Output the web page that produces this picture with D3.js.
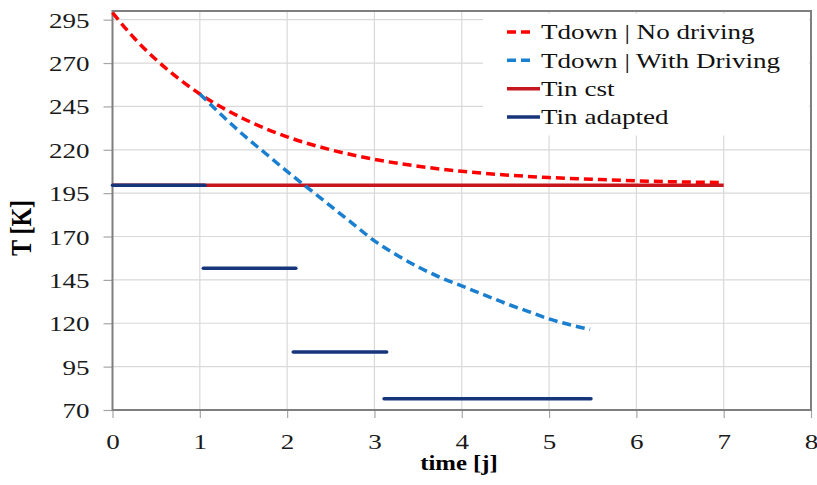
<!DOCTYPE html>
<html>
<head>
<meta charset="utf-8">
<script src="https://cdn.jsdelivr.net/npm/d3@7"></script>
<style>
  html, body { margin: 0; padding: 0; background: #fff; }
  svg { display: block; }
</style>
</head>
<body>
<svg id="chart" width="817" height="485"></svg>
<script>
// ---- data ----
const xTicks = [0, 1, 2, 3, 4, 5, 6, 7, 8];
const yTicks = [70, 95, 120, 145, 170, 195, 220, 245, 270, 295];

const noDrivingTime = [0, 0.25, 0.5, 0.75, 1, 1.25, 1.5, 1.75, 2, 2.5, 3, 3.5, 4, 4.5, 5, 5.5, 6, 6.5, 7];
const noDrivingT    = [299, 284.3, 271.9, 261.3, 252.2, 244.5, 237.9, 232.3, 227.5, 220, 214.5, 210.5, 207.6, 205.5, 204.0, 203.0, 202.1, 201.5, 201.1];

const drivingTime = [1, 1.25, 1.5, 1.75, 2, 2.25, 2.5, 2.75, 3, 3.25, 3.5, 3.75, 4, 4.25, 4.5, 4.75, 5, 5.25, 5.47];
const drivingT    = [252.2, 240, 228.5, 218, 207.5, 197.5, 187.5, 177.5, 167.5, 159.5, 152.5, 146.5, 141.5, 136.5, 131.5, 127, 122.5, 119, 116.5];

const tinCstTime = [0, 7];
const tinCstT    = [199.5, 199.5];

const tinAdaptedStart = [0, 1.04, 2.07, 3.11];
const tinAdaptedEnd   = [1.06, 2.1, 3.14, 5.48];
const tinAdaptedT     = [199.5, 151.7, 103.5, 76.5];

const seriesNames = ["Tdown | No driving", "Tdown | With Driving", "Tin cst", "Tin adapted"];
const xLabel = "time [j]";
const yLabel = "T [K]";

// ---- layout ----
const FONT = "'Liberation Serif', 'Times New Roman', serif";
const svg = d3.select("#chart");
const M = { left: 112.5, right: 811, top: 11, bottom: 410 };
const SX = 1.23; // horizontal text stretch seen in the reference
const colors = { noDriving: "#FF0000", driving: "#1B7FD0", cst: "#C8161E", adapted: "#17357A" };

const x = d3.scaleLinear().domain([0, 8]).range([M.left, M.right]);
const y = d3.scaleLinear().domain([70, 300]).range([M.bottom, M.top]);

// gridlines
const grid = svg.append("g").attr("stroke", "#d9d9d9").attr("stroke-width", 1.2);
grid.selectAll("line.h").data(yTicks).join("line")
  .attr("x1", M.left).attr("x2", M.right)
  .attr("y1", d => y(d)).attr("y2", d => y(d));
grid.selectAll("line.v").data(xTicks.slice(1, -1)).join("line")
  .attr("y1", M.top).attr("y2", M.bottom)
  .attr("x1", d => x(d)).attr("x2", d => x(d));

// axes
const yAxis = svg.append("g").attr("transform", `translate(${M.left},0)`)
  .call(d3.axisLeft(y).tickValues(yTicks).tickSize(9).tickSizeOuter(0).tickPadding(0));
const xAxis = svg.append("g").attr("transform", `translate(0,${M.bottom})`)
  .call(d3.axisBottom(x).tickValues(xTicks).tickSize(8).tickSizeOuter(0).tickPadding(0));
[yAxis, xAxis].forEach(a => {
  a.attr("font-family", null);
  a.select(".domain").remove();
  a.selectAll(".tick line").attr("stroke", "#a6a6a6").attr("stroke-width", 1.2);
  a.selectAll(".tick text").attr("font-size", 22).attr("fill", "#1a1a1a")
    .style("font-family", FONT);
});
yAxis.selectAll(".tick text").attr("x", 0).attr("dy", "0.34em")
  .attr("transform", `translate(-23,0) scale(${SX},1)`);
xAxis.selectAll(".tick text").attr("y", 0).attr("dy", 0)
  .attr("transform", `translate(0,39) scale(${SX},1)`);

// plot border
svg.append("rect").attr("x", M.left).attr("y", M.top)
  .attr("width", M.right - M.left).attr("height", M.bottom - M.top)
  .attr("fill", "none").attr("stroke", "#7f7f7f").attr("stroke-width", 2);

// lines
const line = d3.line().x(d => x(d[0])).y(d => y(d[1]));
const dash = "9,5";
svg.append("path").datum(tinCstTime.map((t, i) => [t, tinCstT[i]]))
  .attr("d", line).attr("fill", "none").attr("stroke", colors.cst).attr("stroke-width", 3.5);
svg.append("path").datum(noDrivingTime.map((t, i) => [t, noDrivingT[i]]))
  .attr("d", line.curve(d3.curveMonotoneX)).attr("fill", "none")
  .attr("stroke", colors.noDriving).attr("stroke-width", 3.5).attr("stroke-dasharray", dash);
svg.append("path").datum(drivingTime.map((t, i) => [t, drivingT[i]]))
  .attr("d", line.curve(d3.curveMonotoneX)).attr("fill", "none")
  .attr("stroke", colors.driving).attr("stroke-width", 3.5).attr("stroke-dasharray", dash);
svg.append("g").selectAll("line").data(tinAdaptedT).join("line")
  .attr("x1", (d, i) => x(tinAdaptedStart[i])).attr("x2", (d, i) => x(tinAdaptedEnd[i]))
  .attr("y1", d => y(d)).attr("y2", d => y(d))
  .attr("stroke", colors.adapted).attr("stroke-width", 3.5).attr("stroke-linecap", "round");

// axis titles
svg.append("text").text(xLabel).style("font-family", FONT)
  .attr("text-anchor", "middle").attr("font-weight", "bold").attr("font-size", 21)
  .attr("transform", `translate(459,470) scale(1.18,1)`);
svg.append("text").text(yLabel).style("font-family", FONT)
  .attr("text-anchor", "middle").attr("font-weight", "bold").attr("font-size", 24)
  .attr("transform", `translate(31,228) scale(${SX},1) rotate(-90)`);

// legend
const lg = svg.append("g");
lg.append("rect").attr("x", 483).attr("y", 13.5).attr("width", 326).attr("height", 122).attr("fill", "#fff");
const legendItems = [
  { name: seriesNames[0], color: colors.noDriving, dashed: true },
  { name: seriesNames[1], color: colors.driving, dashed: true },
  { name: seriesNames[2], color: colors.cst, dashed: false },
  { name: seriesNames[3], color: colors.adapted, dashed: false }
];
const ly = d3.scaleLinear().domain([0, 3]).range([32, 117]);
const items = lg.selectAll("g.item").data(legendItems).join("g")
  .attr("transform", (d, i) => `translate(0,${ly(i)})`);
items.append("line").attr("x1", 507).attr("y1", 0).attr("y2", 0)
  .attr("x2", d => d.dashed ? 534 : 540)
  .attr("stroke", d => d.color).attr("stroke-width", 3.5)
  .attr("stroke-dasharray", d => d.dashed ? "9,5" : null);
items.append("text").text(d => d.name).style("font-family", FONT)
  .attr("font-size", 22).attr("dy", "0.33em").attr("fill", "#111")
  .attr("transform", `translate(541,0) scale(${SX},1)`);
</script>
</body>
</html>
